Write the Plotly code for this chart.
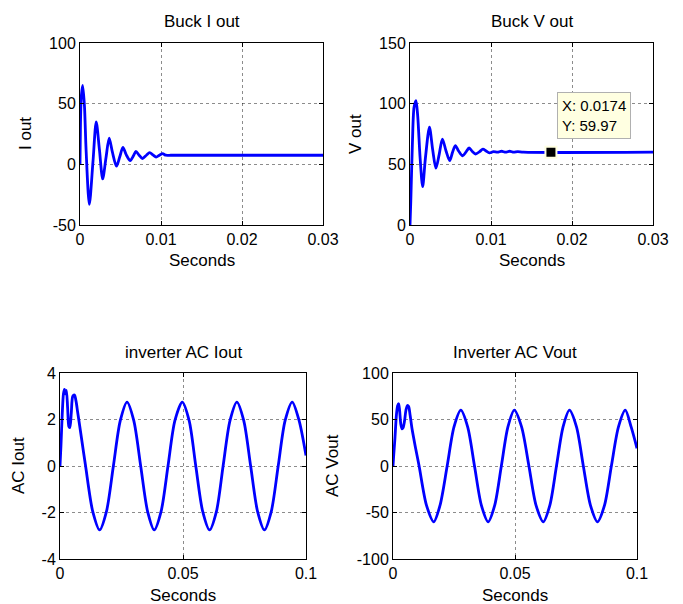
import plotly.graph_objects as go

# ---------------- data ----------------
# Buck I out
t_buck_i = [0, 0.00005, 0.00015, 0.00033, 0.00055, 0.00075, 0.00115, 0.0016, 0.0020, 0.0024,
            0.0028, 0.0032, 0.0036, 0.0040, 0.0045, 0.0049, 0.0053, 0.0057, 0.0062, 0.0066,
            0.0069, 0.0073, 0.0077, 0.0082, 0.0086, 0.0090, 0.0094, 0.0098, 0.0102, 0.0106,
            0.0112, 0.0120, 0.0300]
i_buck = [0, 30, 55, 65, 48, 12, -33, 2, 35, 12,
          -12, 5, 21.5, 10, -1.5, 6, 14, 8, 3, 7,
          10.7, 7.5, 4.8, 7.5, 9.6, 7.8, 6, 7.5, 8.8, 7.5,
          7.5, 7.5, 7.5]

# Buck V out
t_buck_v = [0, 0.0001, 0.0003, 0.0005, 0.00074, 0.00095, 0.00125, 0.00156, 0.0019, 0.0024,
            0.0028, 0.0032, 0.0036, 0.0040, 0.00445, 0.0049, 0.00525, 0.0056, 0.0060, 0.0065,
            0.0069, 0.0073, 0.0077, 0.0081, 0.0086, 0.0090, 0.0094, 0.0098, 0.0103, 0.0108,
            0.0113, 0.0118, 0.0123, 0.0128, 0.0133, 0.0140, 0.0300]
v_buck = [0, 20, 68, 97, 102.5, 90, 55, 31.6, 55, 80.6,
          62, 46.8, 58, 70.8, 61, 53, 60, 65.5, 61, 57,
          60, 63.5, 60.5, 58.5, 60.5, 62.5, 61, 59.5, 60.5, 60,
          60.8, 60, 60.8, 60, 60.5, 60, 60]

# datatip
tip_t = [0.0174]
tip_v = [59.97]

# Inverter AC Iout
t_ac_i = [0, 0.0004, 0.0009, 0.0014, 0.0018, 0.0022, 0.0026, 0.0031, 0.0036, 0.0040,
          0.0046, 0.0052, 0.0059, 0.0065, 0.0072, 0.0088, 0.0104, 0.0133, 0.0161, 0.0189,
          0.0217, 0.0245, 0.02725, 0.0300, 0.0328, 0.0356, 0.0383, 0.0411, 0.0439, 0.0467,
          0.0497, 0.0525, 0.0552, 0.0580, 0.0608, 0.0636, 0.0663, 0.0691, 0.0719, 0.0747,
          0.0775, 0.0803, 0.0831, 0.0859, 0.0887, 0.0915, 0.0944, 0.0972, 0.1000]
i_ac = [0, 0.9, 2.2, 3.1, 3.3, 3.1, 3.25, 2.5, 1.7, 1.65,
        2.3, 3.0, 3.05, 2.8, 2.3, 1.15, 0, -1.95, -2.75, -1.95,
        0, 1.95, 2.75, 1.95, 0, -1.95, -2.75, -1.95, 0, 1.95,
        2.75, 1.95, 0, -1.95, -2.75, -1.95, 0, 1.95, 2.75, 1.95,
        0, -1.95, -2.75, -1.95, 0, 1.95, 2.75, 1.95, 0.45]

# Inverter AC Vout
t_ac_v = [0, 0.0003, 0.0008, 0.0014, 0.0019, 0.0023, 0.0027, 0.0032, 0.0037, 0.0041,
          0.0047, 0.0053, 0.0059, 0.0064, 0.0070, 0.0078, 0.0092, 0.0107, 0.0137, 0.0167,
          0.0193, 0.0222, 0.0250, 0.0278, 0.0306, 0.0334, 0.0362, 0.0390, 0.0417, 0.0444,
          0.0471, 0.0497, 0.0527, 0.0557, 0.0586, 0.0616, 0.0643, 0.0670, 0.0697, 0.0723,
          0.0752, 0.0780, 0.0809, 0.0838, 0.0867, 0.0895, 0.0924, 0.0952, 0.0976, 0.1000]
v_ac = [0, 12, 30, 55, 65, 67, 60, 45, 40, 41,
        48, 60, 65, 64, 55, 40, 20, 0, -42, -60,
        -42, 0, 42, 60, 42, 0, -42, -60, -42, 0,
        42, 60, 42, 0, -42, -60, -42, 0, 42, 60,
        42, 0, -42, -60, -42, 0, 42, 60, 42, 19]

# tick labels
x_ticks_top = [0, 0.01, 0.02, 0.03]
x_ticktext_top = ["0", "0.01", "0.02", "0.03"]
x_ticks_bot = [0, 0.05, 0.1]
x_ticktext_bot = ["0", "0.05", "0.1"]
y_ticks_bi = [-50, 0, 50, 100]
y_ticks_bv = [0, 50, 100, 150]
y_ticks_ai = [-4, -2, 0, 2, 4]
y_ticks_av = [-100, -50, 0, 50, 100]

titles = ["Buck I out", "Buck V out", "inverter AC Iout", "Inverter AC Vout"]
ylabels = ["I out", "V out", "AC Iout", "AC Vout"]
xlabel = "Seconds"

# ---------------- layout ----------------
W, H = 683, 604
FONT = "Arial, Liberation Sans, sans-serif"
BLUE = "#0000FF"

# pixel boxes: (left, right, top, bottom)
boxes = [(80, 323, 43, 225), (410, 653, 43, 225), (60, 306, 373, 559), (393, 637, 373, 559)]

def dom(b):
    l, r, t, bt = b
    return [l / W, r / W], [1 - bt / H, 1 - t / H]

fig = go.Figure()
series = [(t_buck_i, i_buck), (t_buck_v, v_buck), (t_ac_i, i_ac), (t_ac_v, v_ac)]
for k, (tx, ty) in enumerate(series):
    sfx = "" if k == 0 else str(k + 1)
    fig.add_trace(go.Scatter(x=tx, y=ty, mode="lines", xaxis="x" + sfx, yaxis="y" + sfx,
                             line=dict(color=BLUE, width=2.8, shape="spline", smoothing=0.8),
                             hoverinfo="skip", showlegend=False))

fig.add_trace(go.Scatter(x=tip_t, y=tip_v, mode="markers", xaxis="x2", yaxis="y2",
                         marker=dict(symbol="square", size=11, color="black",
                                     line=dict(color="#FFFFE1", width=2)),
                         hoverinfo="skip", showlegend=False, cliponaxis=False))

xinfo = [(x_ticks_top, x_ticktext_top, [0, 0.03]), (x_ticks_top, x_ticktext_top, [0, 0.03]),
         (x_ticks_bot, x_ticktext_bot, [0, 0.1]), (x_ticks_bot, x_ticktext_bot, [0, 0.1])]
yinfo = [(y_ticks_bi, [-50, 100]), (y_ticks_bv, [0, 150]), (y_ticks_ai, [-4, 4]), (y_ticks_av, [-100, 100])]

common = dict(showline=True, linecolor="black", linewidth=1, mirror="ticks",
              ticks="inside", ticklen=4, tickcolor="black", showgrid=True,
              gridcolor="rgba(0,0,0,0.45)", griddash="dot", gridwidth=1,
              zeroline=False, fixedrange=True, automargin=False,
              tickfont=dict(family=FONT, size=16, color="black"))

annotations = []
for k, b in enumerate(boxes):
    sfx = "" if k == 0 else str(k + 1)
    dx, dy = dom(b)
    xt, xtt, xr = xinfo[k]
    yt, yr = yinfo[k]
    fig.layout["xaxis" + sfx] = dict(domain=dx, range=xr, tickvals=xt, ticktext=xtt,
                                     anchor="y" + sfx, **common)
    fig.layout["yaxis" + sfx] = dict(domain=dy, range=yr, tickvals=yt,
                                     ticktext=[str(v) for v in yt],
                                     anchor="x" + sfx, **common)
    l, r, t, bt = b
    cx = (l + r) / 2 / W
    annotations.append(dict(text=titles[k], x=cx, y=1 - (t - 21) / H, xref="paper", yref="paper",
                            showarrow=False, xanchor="center", yanchor="middle",
                            font=dict(family=FONT, size=17, color="black")))
    annotations.append(dict(text=xlabel, x=cx, y=1 - (bt + 36) / H, xref="paper", yref="paper",
                            showarrow=False, xanchor="center", yanchor="middle",
                            font=dict(family=FONT, size=17, color="black")))

ylab_x = [25, 355, 18, 332]
for k, b in enumerate(boxes):
    l, r, t, bt = b
    annotations.append(dict(text=ylabels[k], x=ylab_x[k] / W, y=1 - (t + bt) / 2 / H,
                            xref="paper", yref="paper", showarrow=False, textangle=-90,
                            xanchor="center", yanchor="middle",
                            font=dict(family=FONT, size=17, color="black")))

annotations.append(dict(text="X: 0.0174<br>Y: 59.97", x=tip_t[0], y=tip_v[0], xref="x2", yref="y2",
                        showarrow=False, xanchor="left", yanchor="bottom", xshift=6, yshift=13,
                        align="left", bgcolor="#FFFFE1", bordercolor="#B0B0B0", borderwidth=1,
                        borderpad=4, font=dict(family=FONT, size=15, color="black")))

fig.update_layout(width=W, height=H, margin=dict(l=0, r=0, t=0, b=0, autoexpand=False),
                  paper_bgcolor="white", plot_bgcolor="white",
                  annotations=annotations, showlegend=False)

fig.write_html("out.html", config={"displayModeBar": False},
               post_script="document.body.style.margin='0';")
